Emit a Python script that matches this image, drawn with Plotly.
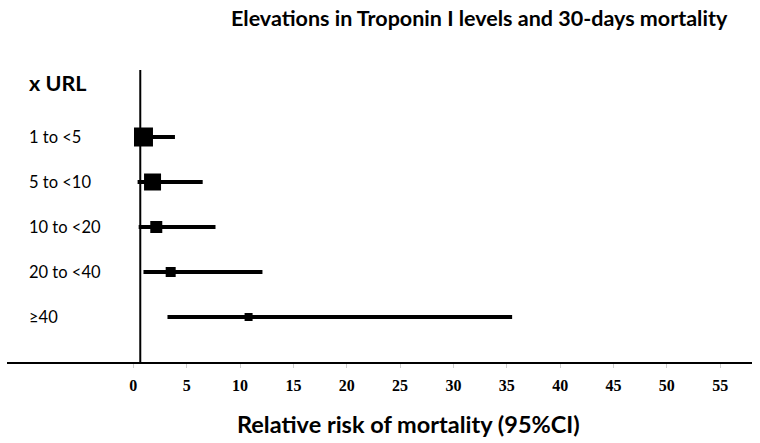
import plotly.graph_objects as go

categories = ["1 to <5", "5 to <10", "10 to <20", "20 to <40", "≥40"]
rr = [0.95, 1.8, 2.15, 3.5, 10.8]
ci_low = [0.5, 0.4, 0.5, 0.95, 3.2]
ci_high = [3.9, 6.5, 7.7, 12.1, 35.5]
marker_sizes = [19, 17, 12, 10, 8]
ref_line = 0.65
tick_vals = [0, 5, 10, 15, 20, 25, 30, 35, 40, 45, 50, 55]

W, H = 760, 443
ml, mr, mt, mb = 7, 8, 60, 81
pw, ph = W - ml - mr, H - mt - mb
row_px = 45.0

n = len(categories)
ypos = [n - i for i in range(n)]

fig = go.Figure()
for i in range(n):
    fig.add_trace(go.Scatter(
        x=[ci_low[i], ci_high[i]], y=[ypos[i], ypos[i]], mode="lines",
        line=dict(color="black", width=4), showlegend=False, hoverinfo="skip"))
fig.add_trace(go.Scatter(
    x=rr, y=ypos, mode="markers",
    marker=dict(symbol="square", size=marker_sizes, color="black", opacity=1,
                line=dict(width=0)),
    showlegend=False))

fig.add_shape(type="line", xref="x", yref="y", x0=ref_line, x1=ref_line,
              y0=0, y1=(H - mb - 70) / row_px, line=dict(color="black", width=2))

lab_x = (27 - ml) / pw
for i, c in enumerate(categories):
    fig.add_annotation(text=c, xref="paper", yref="y", x=lab_x, y=ypos[i],
                       xanchor="left", yanchor="middle", showarrow=False,
                       font=dict(family="Lato", size=16.5, color="black"))
fig.add_annotation(text="<b>x URL</b>", xref="paper", yref="y", x=lab_x,
                   y=(H - mb - 83) / row_px,
                   xanchor="left", yanchor="middle", showarrow=False,
                   font=dict(family="Lato", size=21.5, color="black"))

fig.add_annotation(text="<b>Elevations in Troponin I levels and 30-days mortality</b>",
                   xref="paper", yref="paper", x=(479 - ml) / pw, y=(H - 18 - mb) / ph,
                   xanchor="center", yanchor="middle",
                   showarrow=False, font=dict(family="Lato", size=21.5, color="black"))
fig.add_annotation(text="<b>Relative risk of mortality (95%CI)</b>",
                   xref="paper", yref="paper", x=(409 - ml) / pw, y=(H - 424 - mb) / ph,
                   xanchor="center", yanchor="middle",
                   showarrow=False, font=dict(family="Lato", size=23.5, color="black"))

fig.update_layout(
    width=W, height=H, margin=dict(l=ml, r=mr, t=mt, b=mb, autoexpand=False),
    plot_bgcolor="white", paper_bgcolor="white",
    xaxis=dict(range=[-11.84, 57.98], tickvals=tick_vals, showgrid=False, zeroline=False,
               showline=True, linecolor="black", linewidth=2, automargin=False,
               ticks="outside", ticklen=4, tickcolor="#cccccc", tickwidth=1,
               ticklabelstandoff=4,
               tickfont=dict(family="Liberation Serif", size=16, color="black", weight="bold")),
    yaxis=dict(range=[0, ph / row_px], showgrid=False, zeroline=False, showline=False,
               showticklabels=False, ticks="", automargin=False),
)
fig.write_html("out.html", config={"displayModeBar": False},
               post_script="document.body.style.margin='0';")
